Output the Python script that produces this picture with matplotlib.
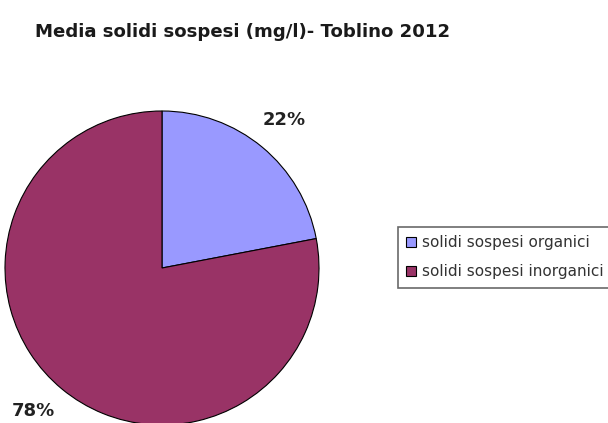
import matplotlib.pyplot as plt

# Data
categories = ["solidi sospesi organici", "solidi sospesi inorganici"]
values = [22, 78]
colors = ["#9999FF", "#993366"]

plt.rcParams['font.family'] = ['DejaVu Sans']

fig = plt.figure(figsize=(6.08, 4.23), dpi=100)
W, H = 608, 423

# Pie axes placed in pixel coordinates (centre ~ (162, 268), radius ~157)
cx, cy, r = 162, 268, 157
ax = fig.add_axes([(cx - r) / W, (H - cy - r) / H, 2 * r / W, 2 * r / H])

wedges, texts, autotexts = ax.pie(
    values,
    colors=colors,
    startangle=90,
    counterclock=False,
    autopct='%1.0f%%',
    pctdistance=1.22,
    radius=1,
    wedgeprops=dict(edgecolor='black', linewidth=0.8),
    textprops=dict(fontsize=13, fontweight='bold', color='#222222'),
)
ax.set_xlim(-1, 1)
ax.set_ylim(-1, 1)
ax.set_aspect('equal')
ax.axis('off')

# nudge the lower label so it stays inside the image, as in the original
x, y = autotexts[1].get_position()
autotexts[1].set_position((x - 0.04, y + 0.03))

fig.text(35 / W, 1 - 32 / H, "Media solidi sospesi (mg/l)- Toblino 2012",
         fontsize=13.1, fontweight='bold', va='center', ha='left',
         color='#1a1a1a')

leg = fig.legend(wedges, categories, loc='upper left',
                 bbox_to_anchor=(398 / W, 1 - 227 / H),
                 fontsize=11, frameon=True, fancybox=False,
                 edgecolor='#444444', handlelength=0.6, handleheight=0.6,
                 handletextpad=0.45, borderpad=0.55, labelspacing=0.9,
                 borderaxespad=0)
leg.get_frame().set_linewidth(1.2)
for t in leg.get_texts():
    t.set_color('#333333')

fig.savefig("out.png", dpi=100)
